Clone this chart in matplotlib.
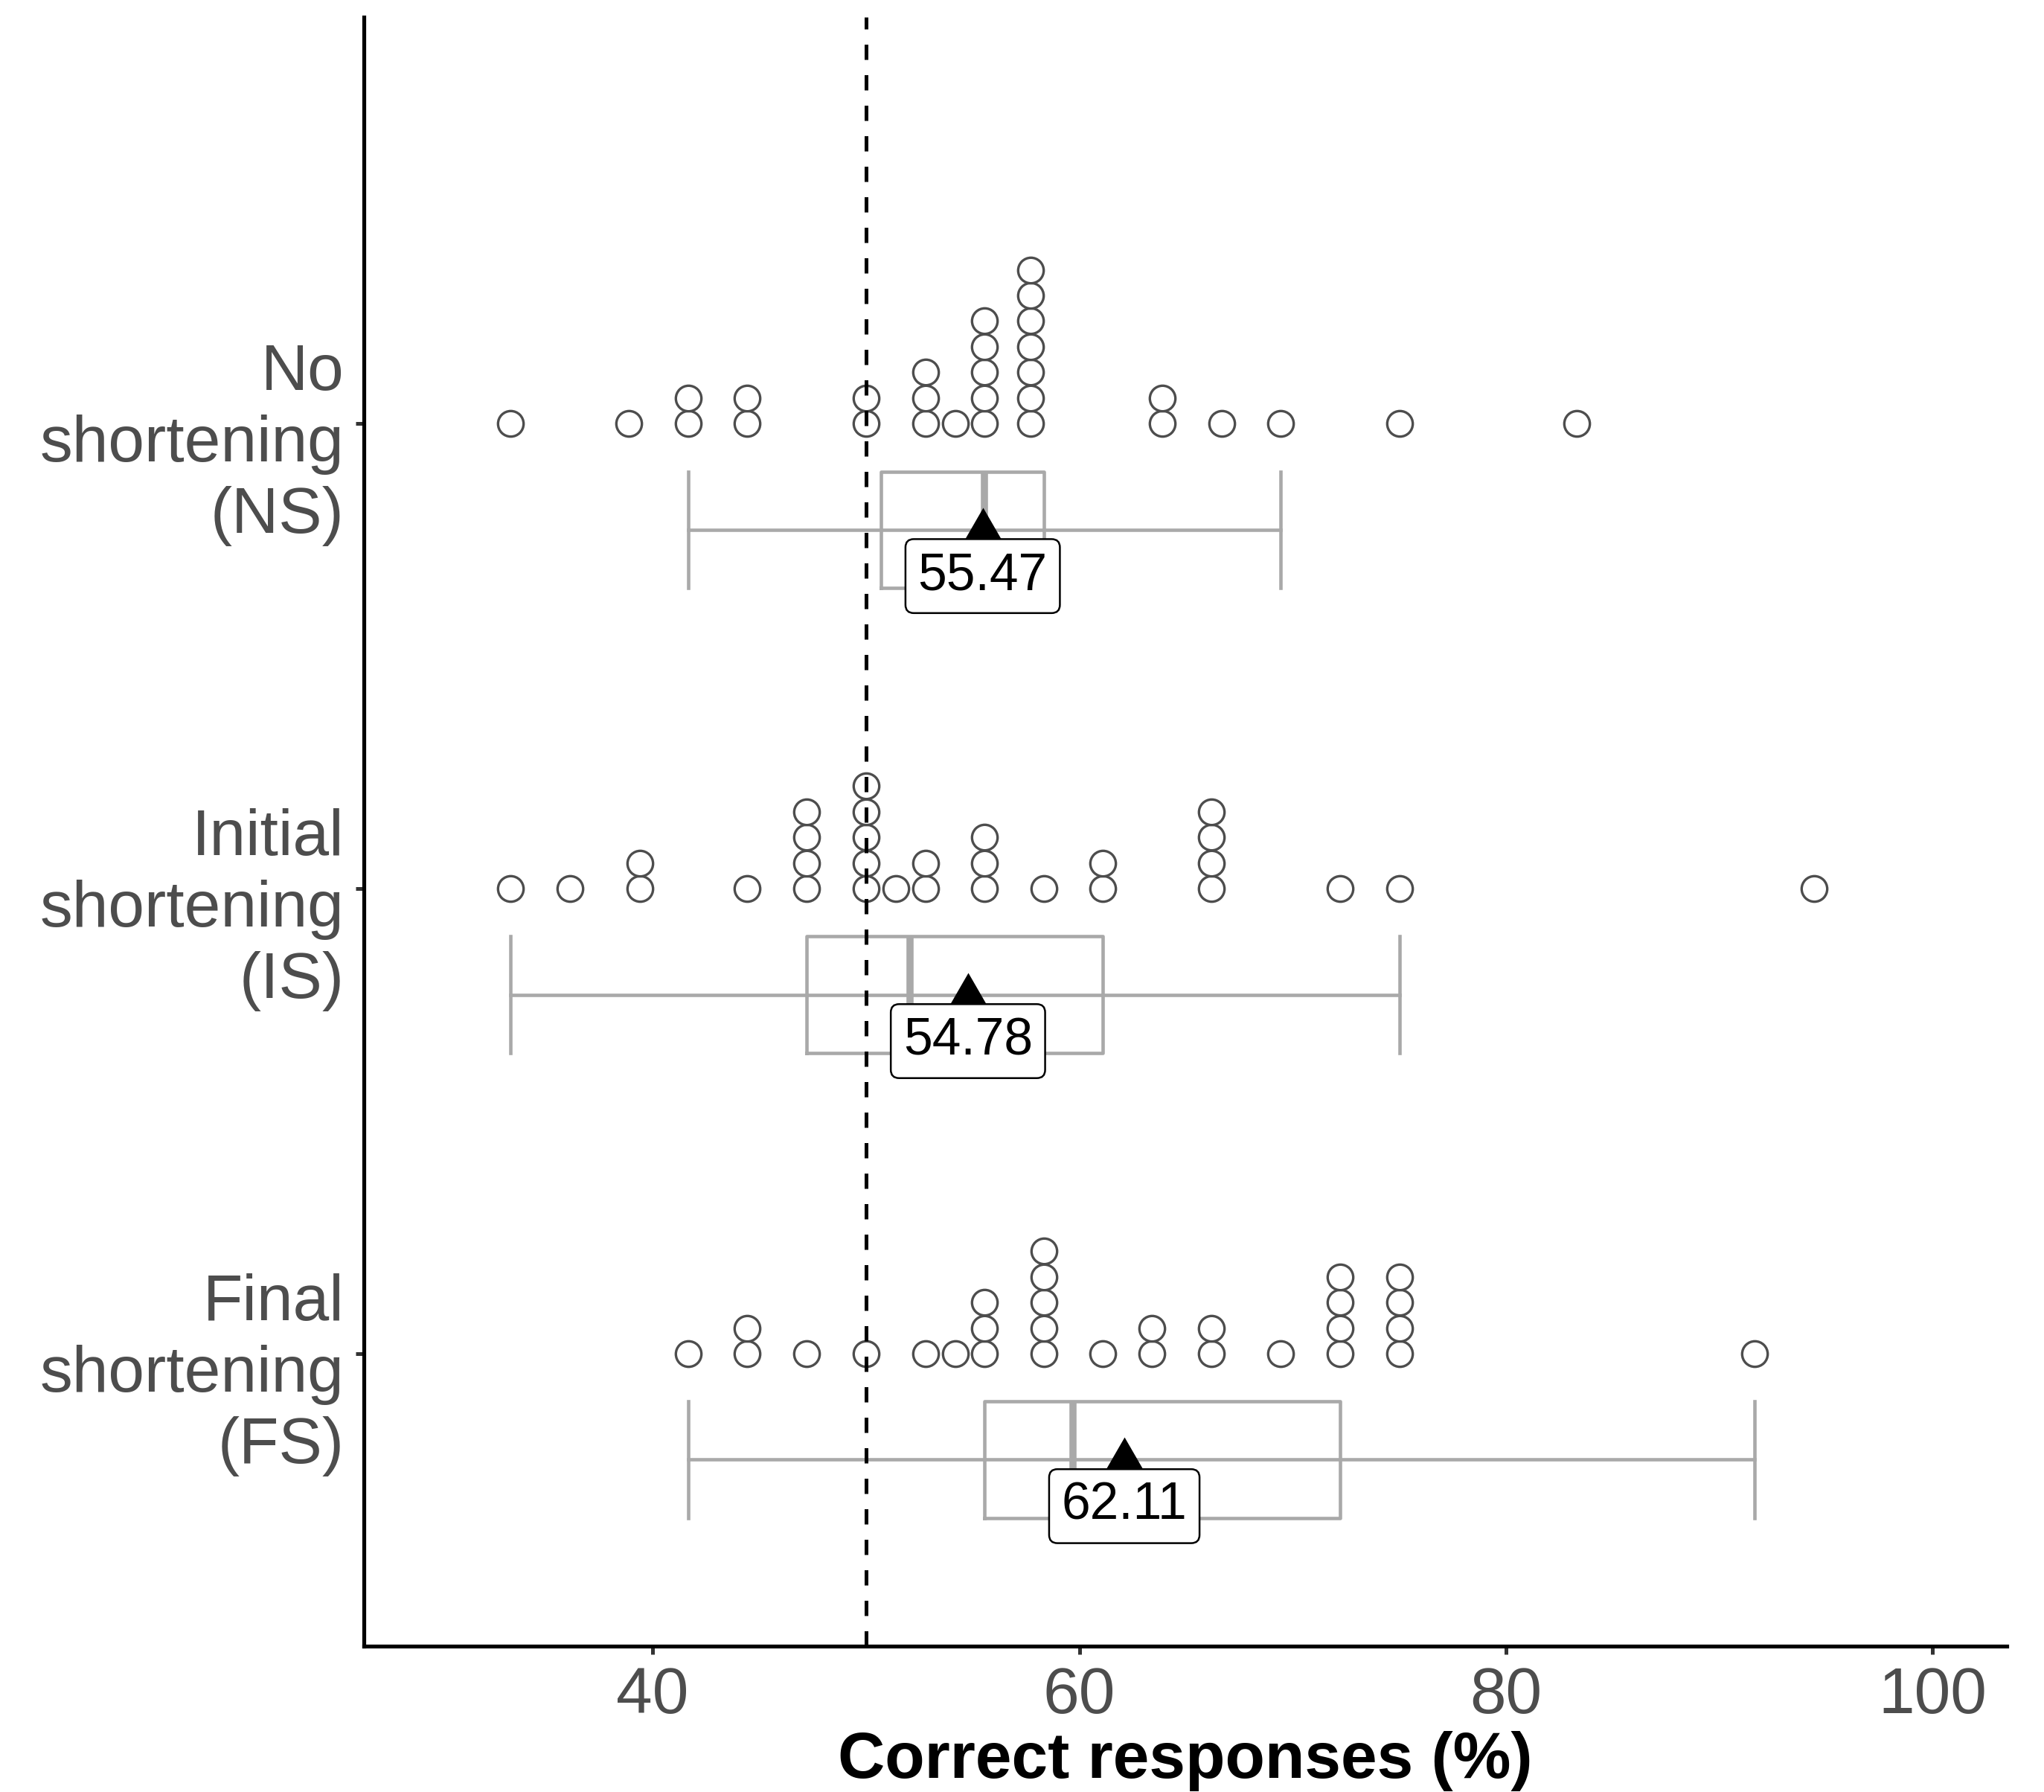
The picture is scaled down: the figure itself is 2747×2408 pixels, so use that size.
import matplotlib
matplotlib.use("Agg")
import matplotlib.pyplot as plt
import matplotlib.transforms as mtransforms

plt.rcParams['font.family'] = ['Liberation Sans', 'DejaVu Sans']

conditions = ["No\nshortening\n(NS)", "Initial\nshortening\n(IS)", "Final\nshortening\n(FS)"]
positions = [3, 2, 1]

# individual participant scores (dot positions as read from the dotplot)
ns_scores = [33.33, 38.89, 41.67, 41.67, 44.44, 44.44, 50.0, 50.0,
             52.78, 52.78, 52.78, 54.2, 55.56, 55.56, 55.56, 55.56, 55.56,
             57.7, 57.7, 57.7, 57.7, 57.7, 57.7, 57.7,
             63.89, 63.89, 66.67, 69.44, 75.0, 83.33]
is_scores = [33.33, 36.11, 39.4, 39.4, 44.44, 47.22, 47.22, 47.22, 47.22,
             50.0, 50.0, 50.0, 50.0, 50.0, 51.39, 52.78, 52.78,
             55.56, 55.56, 55.56, 58.33, 61.11, 61.11,
             66.2, 66.2, 66.2, 66.2, 72.22, 75.0, 94.44]
fs_scores = [41.67, 44.44, 44.44, 47.22, 50.0, 52.78, 54.2,
             55.56, 55.56, 55.56, 58.33, 58.33, 58.33, 58.33, 58.33,
             61.11, 63.4, 63.4, 66.2, 66.2, 69.44,
             72.22, 72.22, 72.22, 72.22, 75.0, 75.0, 75.0, 75.0, 91.67]
scores = [ns_scores, is_scores, fs_scores]

# boxplot summary
whisker_lo = [41.67, 33.33, 41.67]
q1 = [50.69, 47.22, 55.56]
medians = [55.56, 52.08, 59.72]
q3 = [58.33, 61.11, 72.22]
whisker_hi = [69.44, 75.0, 91.67]
means = [55.47, 54.78, 62.11]

chance = 50

box_col = '#A9A9A9'
dot_edge = '#4D4D4D'
stack_step = 0.0551
box_off = 0.228
label_off = 0.328

fig = plt.figure(figsize=(2747 / 300, 2408 / 300), dpi=300)
ax = fig.add_axes([489 / 2747, 1 - 2212 / 2408, (2697 - 489) / 2747, (2212 - 23) / 2408])

# stacked dots
for pos, vals in zip(positions, scores):
    xs, ys = [], []
    seen = {}
    for v in vals:
        k = seen.get(v, 0)
        seen[v] = k + 1
        xs.append(v)
        ys.append(pos + k * stack_step)
    ax.scatter(xs, ys, s=68, facecolor='white', edgecolor=dot_edge, linewidth=0.8, zorder=3)

# boxplots
stats = []
for i in range(len(positions)):
    stats.append(dict(whislo=whisker_lo[i], q1=q1[i], med=medians[i], q3=q3[i],
                      whishi=whisker_hi[i], fliers=[]))
bpos = [p - box_off for p in positions]
ax.bxp(stats, positions=bpos, widths=0.25, capwidths=0.25, orientation='horizontal',
       showfliers=False, manage_ticks=False,
       boxprops=dict(color=box_col, linewidth=1.1),
       whiskerprops=dict(color=box_col, linewidth=1.1),
       capprops=dict(color=box_col, linewidth=1.1),
       medianprops=dict(color=box_col, linewidth=2.3, solid_capstyle='butt'))
ax.hlines(bpos, q1, q3, color=box_col, linewidth=1.1, zorder=2)

ax.axvline(chance, color='black', linewidth=1.2, linestyle=(0, (4.1, 4.1)), zorder=4)

tri = [(-0.5, -0.2887), (0.5, -0.2887), (0, 0.5774)]
ax.plot(means, bpos, linestyle='none', marker=tri, markersize=14.4,
        color='black', markeredgewidth=0, zorder=6)
for p, m in zip(positions, means):
    ax.text(m, p - label_off, '%.2f' % m, ha='center', va='center', fontsize=16.7,
            color='black', zorder=7,
            bbox=dict(boxstyle='round,pad=0.24,rounding_size=0.16',
                      facecolor='white', edgecolor='black', linewidth=0.6))

ax.set_xlim(26.46, 103.48)
ax.set_ylim(0.371, 3.874)
ax.set_xticks([40, 60, 80, 100])
ax.set_yticks(positions)
ax.set_yticklabels(conditions, linespacing=1.24)
ax.set_xlabel('Correct responses (%)', fontsize=21, fontweight='bold', labelpad=1.5)

for s in ['top', 'right']:
    ax.spines[s].set_visible(False)
for s in ['left', 'bottom']:
    ax.spines[s].set_linewidth(1.25)
    ax.spines[s].set_color('black')
ax.tick_params(axis='both', labelsize=21, labelcolor='#4D4D4D', color='#333333',
               width=1.2, length=2.6, pad=3.8)

# nudge the three-line category labels down a little
shift = mtransforms.ScaledTranslation(0, -12 / 300, fig.dpi_scale_trans)
for lab in ax.get_yticklabels():
    lab.set_transform(lab.get_transform() + shift)

fig.savefig('out.png', dpi=300)
